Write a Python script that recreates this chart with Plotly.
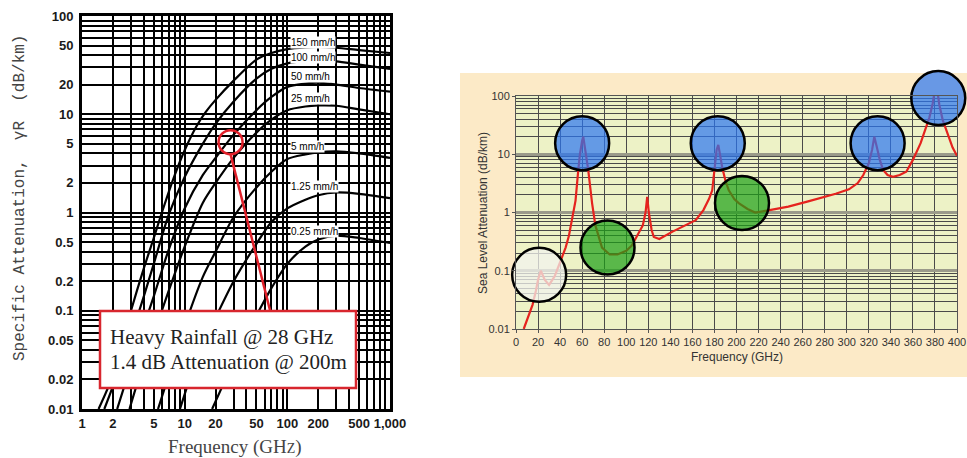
import math
import plotly.graph_objects as go

# ---------------- Rain attenuation vs frequency (log-log) ----------------
rain_labels = ["150 mm/h", "100 mm/h", "50 mm/h", "25 mm/h", "5 mm/h", "1.25 mm/h", "0.25 mm/h"]

freq_150 = [1.45, 2, 3, 4, 5, 6, 8, 10, 13, 16, 20, 30, 50, 70, 100, 150, 200, 300, 500, 1000]
att_150 = [0.01, 0.022, 0.1, 0.27, 0.55, 1.0, 2.4, 4.3, 7.5, 10.5, 14, 22, 36, 42, 46, 48, 48.5, 47.5, 45, 42]

freq_100 = [1.65, 2, 3, 4, 5, 7, 10, 15, 20, 30, 50, 70, 100, 150, 200, 300, 500, 1000]
att_100 = [0.01, 0.017, 0.055, 0.14, 0.3, 0.95, 2.3, 5, 8, 13.5, 23, 29, 33, 35, 35.5, 34.5, 32, 29]

freq_50 = [2.2, 3, 4, 5, 7, 10, 15, 20, 30, 50, 70, 100, 150, 200, 300, 500, 1000]
att_50 = [0.01, 0.028, 0.07, 0.14, 0.42, 1.1, 2.4, 3.6, 6.2, 11, 15, 19, 20.5, 21, 20, 18.5, 17]

freq_25 = [2.9, 4, 5, 7, 10, 15, 20, 30, 50, 70, 100, 150, 200, 300, 500, 1000]
att_25 = [0.01, 0.03, 0.058, 0.16, 0.45, 1.25, 2.0, 3.6, 6.5, 8.8, 11, 12, 12.3, 12.2, 11.2, 10]

freq_5 = [5.5, 7, 10, 15, 20, 30, 50, 70, 100, 150, 200, 300, 500, 1000]
att_5 = [0.01, 0.022, 0.07, 0.22, 0.4, 0.9, 1.8, 2.6, 3.5, 3.9, 4.1, 4.2, 4.0, 3.6]

freq_1p25 = [9, 12, 15, 20, 30, 50, 70, 100, 150, 200, 300, 500, 1000]
att_1p25 = [0.01, 0.025, 0.045, 0.085, 0.2, 0.48, 0.8, 1.1, 1.35, 1.5, 1.6, 1.55, 1.4]

freq_0p25 = [18.5, 25, 30, 40, 50, 70, 100, 150, 200, 300, 500, 1000]
att_0p25 = [0.01, 0.02, 0.03, 0.06, 0.09, 0.17, 0.3, 0.45, 0.53, 0.58, 0.55, 0.49]

rain_label_freq = 105
rain_label_att = [54, 38, 24, 14.3, 4.75, 1.86, 0.635]

left_xticks = [1, 2, 5, 10, 20, 50, 100, 200, 500, 1000]
left_xtext = ["1", "2", "5", "10", "20", "50", "100", "200", "500", "1,000"]
left_yticks = [0.01, 0.02, 0.05, 0.1, 0.2, 0.5, 1, 2, 5, 10, 20, 50, 100]
left_ytext = ["0.01", "0.02", "0.05", "0.1", "0.2", "0.5", "1", "2", "5", "10", "20", "50", "100"]

# highlighted operating point
hl_rain_freq = 28
hl_rain_att = 5.2
note_lines = ["Heavy Rainfall @ 28 GHz", "1.4 dB Attenuation @ 200m"]

# ---------------- Sea level atmospheric attenuation ----------------
atm_freq = [7, 10, 15, 18, 20, 22.5, 26, 30, 35, 40, 45, 48, 51, 54, 56.5, 58, 60, 61, 62, 64,
            65.5, 69, 72, 78, 85, 92, 100, 105, 110, 115, 117.5, 119, 120.5, 123, 125, 130,
            142, 155, 163, 170, 175, 178, 180, 182, 183.5, 185, 187, 190, 193, 198, 202, 210,
            217, 230, 247, 265, 278, 290, 302, 310, 315, 320, 323, 325, 327, 330, 333, 337,
            342, 348, 354, 360, 367, 372, 375, 378, 380, 382, 384, 387, 390, 393, 396, 400]
atm_att = [0.01, 0.0145, 0.026, 0.045, 0.07, 0.1, 0.07, 0.057, 0.08, 0.14, 0.25, 0.4, 0.8, 1.6,
           5.4, 10, 17, 20, 15, 8, 5.4, 1.45, 0.6, 0.25, 0.19, 0.19, 0.22, 0.27, 0.4, 0.6, 1.0,
           1.85, 1.0, 0.5, 0.38, 0.35, 0.47, 0.62, 0.74, 1.1, 1.7, 2.4, 6, 12, 14.5, 10, 6, 3.5,
           2.4, 1.7, 1.45, 1.15, 1.0, 1.1, 1.26, 1.55, 1.8, 2.1, 2.5, 3.2, 4.4, 7, 12, 20, 14, 8,
           5.4, 4.4, 4.1, 4.4, 5, 8, 15.5, 28, 43, 75, 130, 130, 70, 39, 27, 18, 13, 9.4]

# absorption features marked with circles: (GHz, dB/km, kind); later entries drawn on top
mark_freq = [21, 60, 183, 328, 383, 83, 205]
mark_att = [0.085, 15.5, 15.5, 15.5, 92, 0.25, 1.46]
mark_kind = ["window", "peak", "peak", "peak", "peak", "valley", "valley"]
mark_fill = {"window": "rgba(241,243,237,0.75)",
             "peak": "rgba(41,117,242,0.7)",
             "valley": "rgba(27,160,21,0.7)"}

right_xticks = list(range(0, 401, 20))
right_yticks = [0.01, 0.1, 1, 10, 100]
right_ytext = ["0.01", "0.1", "1", "10", "100"]

W, H = 967, 458


def minor_log(lo_exp, hi_exp, skip):
    vals = []
    for e in range(lo_exp, hi_exp):
        for m in range(1, 10):
            v = round(m * 10 ** e, 6)
            if v not in skip:
                vals.append(v)
    return vals


fig = go.Figure()

rain_series = [(freq_150, att_150), (freq_100, att_100), (freq_50, att_50), (freq_25, att_25),
               (freq_5, att_5), (freq_1p25, att_1p25), (freq_0p25, att_0p25)]
for name, (fx, ay) in zip(rain_labels, rain_series):
    fig.add_trace(go.Scatter(x=fx, y=ay, mode="lines", name=name, xaxis="x", yaxis="y",
                             line=dict(color="black", width=2.2, shape="spline", smoothing=0.8),
                             showlegend=False, hoverinfo="skip"))

fig.add_trace(go.Scatter(x=atm_freq, y=atm_att, mode="lines", xaxis="x2", yaxis="y2",
                         line=dict(color="#E5231E", width=2.2), showlegend=False,
                         hoverinfo="skip"))

# circles over the absorption features, one marker per feature so the draw order is kept
for f, a, k in zip(mark_freq, mark_att, mark_kind):
    fig.add_trace(go.Scatter(x=[f], y=[a], mode="markers", xaxis="x2", yaxis="y2",
                             marker=dict(size=54, color=mark_fill[k],
                                         line=dict(color="black", width=2.5)),
                             cliponaxis=False, showlegend=False, hoverinfo="skip"))

# highlighted point at 28 GHz
fig.add_trace(go.Scatter(x=[hl_rain_freq], y=[hl_rain_att], mode="markers", xaxis="x", yaxis="y",
                         marker=dict(size=24, color="rgba(0,0,0,0)", symbol="circle",
                                     line=dict(color="#E0202A", width=2.5)),
                         showlegend=False, hoverinfo="skip"))

# domains (paper fractions)
xd1 = [82 / W, 390 / W]
yd1 = [(H - 409) / H, (H - 16) / H]
xd2 = [516 / W, 957 / W]
yd2 = [(H - 329) / H, (H - 96) / H]

tick_font_left = dict(family="Liberation Sans", size=13, color="#1a1a1a", weight="bold")
tick_font_right = dict(family="Liberation Sans", size=11, color="#333333")

fig.update_layout(
    width=W, height=H, margin=dict(l=0, r=0, t=0, b=0, autoexpand=False),
    paper_bgcolor="white", plot_bgcolor="rgba(0,0,0,0)",
    xaxis=dict(type="log", range=[0, 3], domain=xd1, anchor="y", automargin=False,
               tickvals=left_xticks, ticktext=left_xtext, tickfont=tick_font_left,
               tickangle=0, ticks="", ticklabelstandoff=0,
               showgrid=True, gridcolor="black", gridwidth=2,
               minor=dict(tickvals=minor_log(0, 3, left_xticks), showgrid=True,
                          gridcolor="black", gridwidth=1.6, ticks=""),
               showline=True, linecolor="black", linewidth=3, mirror=True, zeroline=False),
    yaxis=dict(type="log", range=[-2, 2], domain=yd1, anchor="x", automargin=False,
               tickvals=left_yticks, ticktext=left_ytext, tickfont=tick_font_left,
               ticks="", ticklabelstandoff=3,
               showgrid=True, gridcolor="black", gridwidth=2,
               minor=dict(tickvals=minor_log(-2, 2, left_yticks), showgrid=True,
                          gridcolor="black", gridwidth=1.6, ticks=""),
               showline=True, linecolor="black", linewidth=3, mirror=True, zeroline=False),
    xaxis2=dict(range=[0, 400], domain=xd2, anchor="y2", automargin=False,
                tickvals=right_xticks, tickfont=tick_font_right, tickangle=0, ticks="outside",
                ticklen=3, tickcolor="#555", ticklabelstandoff=0,
                showgrid=True, gridcolor="#4a4a4a", gridwidth=1,
                showline=True, linecolor="#555", linewidth=1, mirror=True, zeroline=False),
    yaxis2=dict(type="log", range=[-2, 2], domain=yd2, anchor="x2", automargin=False,
                tickvals=right_yticks, ticktext=right_ytext, tickfont=tick_font_right,
                ticks="outside", ticklen=3, tickcolor="#555",
                showgrid=True, gridcolor="#9a9a8a", gridwidth=3,
                minor=dict(tickvals=minor_log(-2, 2, right_yticks), showgrid=True,
                           gridcolor="#4a4a4a", gridwidth=1, ticks=""),
                showline=True, linecolor="#555", linewidth=1, mirror=True, zeroline=False),
)

# panel backgrounds behind the right-hand chart
fig.add_shape(type="rect", xref="paper", yref="paper", x0=460 / W, x1=1.0,
              y0=(H - 377) / H, y1=(H - 73) / H, fillcolor="#FCEAC7", line=dict(width=0),
              layer="below")
fig.add_shape(type="rect", xref="paper", yref="paper", x0=xd2[0], x1=xd2[1],
              y0=yd2[0], y1=yd2[1], fillcolor="#EDF2C6", line=dict(width=0), layer="below")

# rain-rate labels
for lab, a in zip(rain_labels, rain_label_att):
    fig.add_annotation(x=math.log10(rain_label_freq), y=math.log10(a),
                       xref="x", yref="y", text=lab, showarrow=False, xanchor="left",
                       yanchor="middle", bgcolor="white", borderpad=0,
                       font=dict(family="Liberation Sans", size=10, color="black"))

# callout connecting the highlighted point to the note box
fig.add_shape(type="line", xref="x", yref="y", x0=hl_rain_freq, y0=hl_rain_att / 1.33,
              x1=68, y1=0.1, line=dict(color="#E0202A", width=2.5), layer="above")
fig.add_shape(type="rect", xref="paper", yref="paper", x0=100 / W, x1=356 / W,
              y0=(H - 388) / H, y1=(H - 311) / H, fillcolor="white",
              line=dict(color="#D8262E", width=2.5), layer="above")
for i, line in enumerate(note_lines):
    fig.add_annotation(x=108 / W, y=(H - (337 + 25 * i)) / H, xref="paper", yref="paper",
                       text=line, showarrow=False, xanchor="left", yanchor="middle",
                       font=dict(family="Liberation Serif", size=21, color="#222"))

# axis titles
fig.add_annotation(x=20 / W, y=(H - 198) / H, xref="paper", yref="paper",
                   text="Specific Attenuation,  \u03b3R  (dB/km)", textangle=-90,
                   xanchor="center", yanchor="middle", showarrow=False,
                   font=dict(family="Liberation Mono", size=16, color="#444"))
fig.add_annotation(x=235 / W, y=(H - 447) / H, xref="paper", yref="paper",
                   text="Frequency (GH<span style='font-size:14px'>Z</span>)", showarrow=False,
                   xanchor="center", yanchor="middle",
                   font=dict(family="Liberation Serif", size=19, color="#444"))
fig.add_annotation(x=737 / W, y=(H - 357) / H, xref="paper", yref="paper",
                   text="Frequency (GHz)", showarrow=False, xanchor="center", yanchor="middle",
                   font=dict(family="Liberation Sans", size=12, color="#333"))
fig.add_annotation(x=483 / W, y=(H - 213) / H, xref="paper", yref="paper",
                   text="Sea Level Attenuation (dB/km)", textangle=-90, showarrow=False,
                   xanchor="center", yanchor="middle",
                   font=dict(family="Liberation Sans", size=12, color="#333"))

fig.write_html("out.html")
